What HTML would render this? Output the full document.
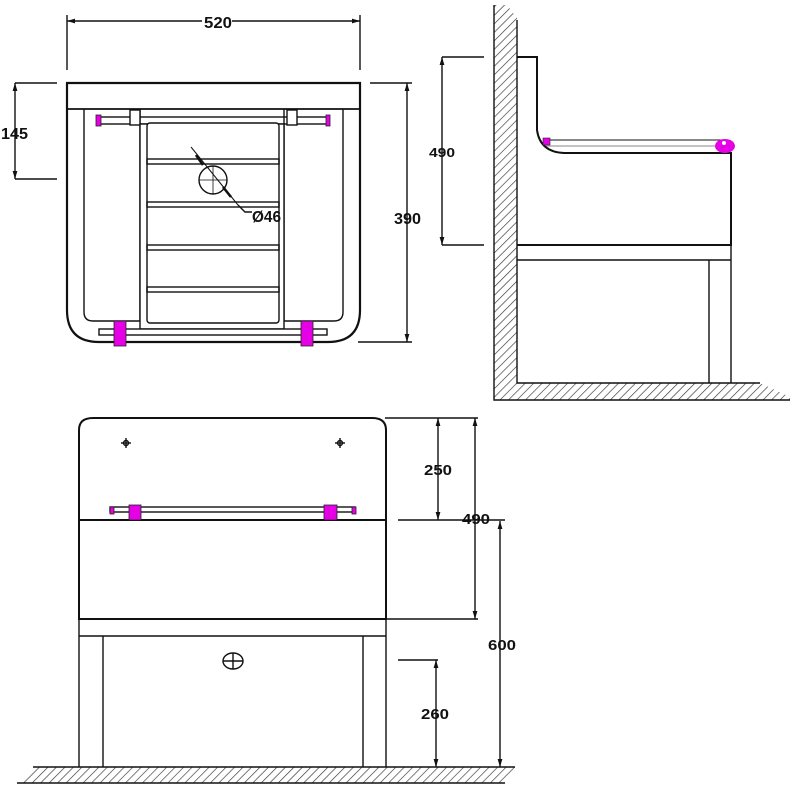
<!DOCTYPE html>
<html><head><meta charset="utf-8"><style>
html,body{margin:0;padding:0;background:#fff}
svg{display:block}
text{font-family:"Liberation Sans",sans-serif;font-weight:bold;font-size:16px;fill:#111}
</style></head><body>
<svg width="800" height="800" viewBox="0 0 800 800" xmlns="http://www.w3.org/2000/svg">
<defs>
<pattern id="h" width="6" height="6" patternUnits="userSpaceOnUse" patternTransform="rotate(45)">
<rect width="6" height="6" fill="#fff"/><line x1="0" y1="0" x2="0" y2="6" stroke="#333" stroke-width="1.3"/>
</pattern>
<marker id="a" viewBox="0 0 10 10" refX="10" refY="5" markerWidth="8" markerHeight="8" orient="auto-start-reverse" markerUnits="userSpaceOnUse"><path d="M0,2 L10,5 L0,8z" fill="#111"/></marker>
</defs>
<g fill="none" stroke="#111" stroke-width="1.4">
<!-- TOP VIEW -->
<path d="M67,83 H360 V310 Q360,342 328,342 H99 Q67,342 67,310 Z" stroke-width="2.2"/>
<line x1="67" y1="109" x2="360" y2="109" stroke-width="1.8"/>
<path d="M84,109 V312 Q84,321 93,321 H140 V109"/>
<path d="M343,109 V312 Q343,321 334,321 H284 V109"/>
<rect x="97" y="117" width="232" height="7"/>
<rect x="130" y="110" width="10" height="15" fill="#fff"/>
<rect x="287" y="110" width="10" height="15" fill="#fff"/>
<rect x="140" y="124" width="144" height="205" fill="#fff"/>
<rect x="147" y="123" width="132" height="200" rx="3" fill="#fff"/>
<rect x="147" y="159" width="132" height="5"/>
<rect x="147" y="202" width="132" height="5"/>
<rect x="147" y="245" width="132" height="5"/>
<rect x="147" y="287" width="132" height="5"/>
<rect x="99" y="329" width="228" height="6" fill="#fff"/>
<circle cx="213" cy="180" r="14"/>
<line x1="199" y1="180" x2="227" y2="180" stroke-width="0.8"/>
<line x1="213" y1="166" x2="213" y2="194" stroke-width="0.8"/>
<line x1="191" y1="147" x2="238" y2="205" stroke-width="1"/>
<line x1="196" y1="155" x2="203" y2="165" stroke-width="2.6"/>
<line x1="223" y1="187" x2="231" y2="197" stroke-width="2.6"/>
<polyline points="238,205 245,212 252,212"/>
<!-- dims top view -->
<line x1="67" y1="15" x2="67" y2="70"/><line x1="360" y1="15" x2="360" y2="70"/>
<line x1="67" y1="21" x2="202" y2="21" marker-start="url(#a)"/>
<line x1="232" y1="21" x2="360" y2="21" marker-end="url(#a)"/>
<line x1="15" y1="83" x2="57" y2="83"/><line x1="15" y1="179" x2="57" y2="179"/>
<line x1="15" y1="83" x2="15" y2="179" marker-start="url(#a)" marker-end="url(#a)"/>
<line x1="370" y1="83" x2="412" y2="83"/><line x1="358" y1="342" x2="412" y2="342"/>
<line x1="407" y1="83" x2="407" y2="342" marker-start="url(#a)" marker-end="url(#a)"/>
</g>
<g fill="#e600e6" stroke="#222" stroke-width="0.8">
<rect x="96" y="115" width="5" height="11"/><rect x="326" y="115" width="4" height="11"/>
<rect x="114" y="321" width="12" height="25"/><rect x="301" y="321" width="12" height="25"/>
</g>
<text x="204" y="28" textLength="28" lengthAdjust="spacingAndGlyphs">520</text>
<text x="1" y="139" textLength="27" lengthAdjust="spacingAndGlyphs">145</text>
<text x="394" y="224" textLength="27" lengthAdjust="spacingAndGlyphs">390</text>
<text x="252" y="222" textLength="29" lengthAdjust="spacingAndGlyphs">Ø46</text>

<!-- SIDE VIEW -->
<path d="M494,5 H507 L517,18 V383 H760 L790,397 V400 H494 Z" fill="url(#h)" stroke="none"/>
<rect x="517" y="18" width="280" height="365" fill="#fff"/>
<g fill="none" stroke="#111" stroke-width="1.4">
<path d="M494,5 V400 H790 M517,20 V383 H760"/>
<path d="M517,57 H537 V130 Q540,152 564,153 H731 V245 H517" stroke-width="2"/>
<path d="M545,140 H728" stroke-width="1"/>
<line x1="545" y1="146" x2="722" y2="146" stroke-width="0.6"/>
<line x1="517" y1="260" x2="731" y2="260"/>
<line x1="709" y1="260" x2="709" y2="383"/><line x1="731" y1="245" x2="731" y2="383"/>
<line x1="442" y1="57" x2="484" y2="57"/><line x1="442" y1="245" x2="484" y2="245"/>
<line x1="442" y1="57" x2="442" y2="245" marker-start="url(#a)" marker-end="url(#a)"/>
</g>
<rect x="543" y="138" width="7" height="7" fill="#e600e6" stroke="#222" stroke-width="0.6"/>
<ellipse cx="725" cy="146" rx="10" ry="7" fill="#e600e6"/>
<circle cx="724" cy="143" r="2" fill="#fff"/>
<text x="429" y="157" style="font-size:13px" textLength="26" lengthAdjust="spacingAndGlyphs">490</text>

<!-- FRONT VIEW -->
<path d="M17,783 L33,767 H515 L505,783 Z" fill="url(#h)" stroke="none"/>
<g fill="none" stroke="#111" stroke-width="1.4">
<path d="M33,767 H515 M17,783 H505"/>
<path d="M79,619 V430 Q79,418 93,418 H372 Q386,418 386,430 V619 Z" stroke-width="2"/>
<line x1="79" y1="520" x2="386" y2="520" stroke-width="2"/>
<line x1="79" y1="619" x2="386" y2="619" stroke-width="2"/>
<line x1="79" y1="636" x2="386" y2="636"/>
<path d="M79,619 V767 M103,636 V767 M363,636 V767 M386,619 V767"/>
<rect x="110" y="507" width="245" height="5" fill="#fff"/>
<ellipse cx="233" cy="661" rx="10" ry="8"/>
<line x1="223" y1="661" x2="243" y2="661"/><line x1="233" y1="653" x2="233" y2="669"/>
<circle cx="126" cy="443" r="2.5"/><line x1="121" y1="443" x2="131" y2="443"/><line x1="126" y1="438" x2="126" y2="448"/>
<circle cx="340" cy="443" r="2.5"/><line x1="335" y1="443" x2="345" y2="443"/><line x1="340" y1="438" x2="340" y2="448"/>
<line x1="385" y1="418" x2="478" y2="418"/>
<line x1="398" y1="520" x2="505" y2="520"/>
<line x1="386" y1="619" x2="478" y2="619"/>
<line x1="398" y1="660" x2="438" y2="660"/>
<line x1="438" y1="418" x2="438" y2="520" marker-start="url(#a)" marker-end="url(#a)"/>
<line x1="475" y1="418" x2="475" y2="619" marker-start="url(#a)" marker-end="url(#a)"/>
<line x1="500" y1="521" x2="500" y2="767" marker-start="url(#a)" marker-end="url(#a)"/>
<line x1="436" y1="660" x2="436" y2="767" marker-start="url(#a)" marker-end="url(#a)"/>
</g>
<g fill="#e600e6" stroke="#222" stroke-width="0.8">
<rect x="110" y="507" width="4" height="7"/><rect x="352" y="507" width="4" height="7"/>
<rect x="129" y="505" width="12" height="15"/><rect x="324" y="505" width="13" height="15"/>
</g>
<text x="424" y="475" style="font-size:15px" textLength="28" lengthAdjust="spacingAndGlyphs">250</text>
<text x="462" y="524" style="font-size:15px" textLength="28" lengthAdjust="spacingAndGlyphs">490</text>
<text x="488" y="650" style="font-size:15px" textLength="28" lengthAdjust="spacingAndGlyphs">600</text>
<text x="421" y="719" style="font-size:15px" textLength="28" lengthAdjust="spacingAndGlyphs">260</text>
</svg>
</body></html>
